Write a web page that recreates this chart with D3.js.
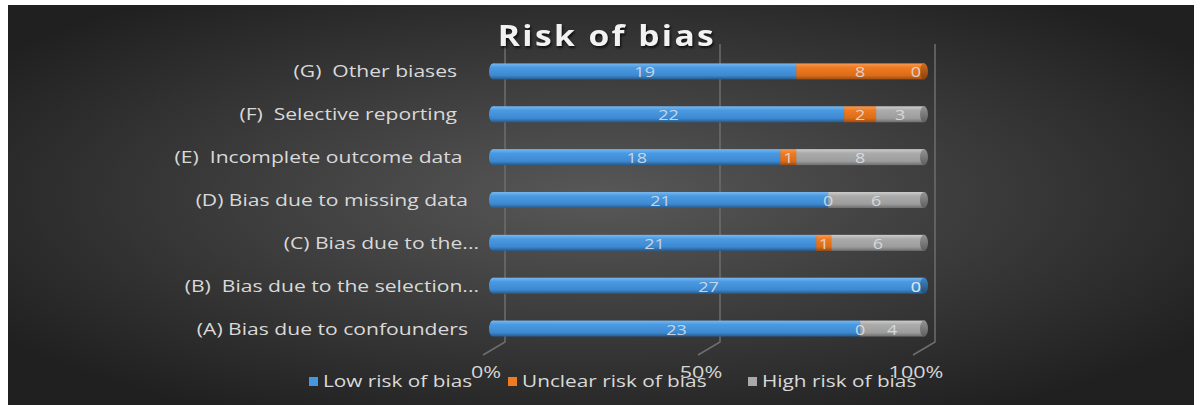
<!DOCTYPE html>
<html lang="en">
<head>
  <meta charset="UTF-8">
  <title>Risk of bias</title>
  <script src="https://d3js.org/d3.v7.min.js"></script>
  <style>
    body {
      margin: 0;
      background: #ffffff;
    }
    svg text {
      font-family: "Open Sans", "Noto Sans", sans-serif;
    }
  </style>
</head>
<body>
  <svg width="1202" height="405"></svg>

  <script>
    // data (top row first); the source labels carry trailing spaces
    const categories = [
      '(G)  Other biases    ',
      '(F)  Selective reporting    ',
      '(E)  Incomplete outcome data   ',
      '(D) Bias due to missing data  ',
      '(C) Bias due to the...',
      '(B)  Bias due to the selection...',
      '(A) Bias due to confounders  '
    ];
    const seriesNames = ['Low risk of bias', 'Unclear risk of bias', 'High risk of bias'];
    const lowRisk     = [19, 22, 18, 21, 21, 27, 23];
    const unclearRisk = [8, 2, 1, 0, 1, 0, 0];
    const highRisk    = [0, 3, 8, 6, 6, 0, 4];
    const tickValues  = [0, 0.5, 1];
    const title = 'Risk of bias';

    const colors = ['#4797e0', '#ef7a22', '#a9a9a9'];
    // the picture is a bit wide, so text gets scaled horizontally
    const stretch = { title: 1.2, label: 1.32, legend: 1.3, tick: 1.35, value: 1.2 };

    const svg = d3.select('svg');
    const defs = svg.append('defs');

    // background
    const bg = defs.append('radialGradient').attr('id', 'bg')
      .attr('cx', '50%').attr('cy', '48%').attr('r', '62%');
    bg.append('stop').attr('offset', '0%').attr('stop-color', '#585858');
    bg.append('stop').attr('offset', '100%').attr('stop-color', '#202020');
    svg.append('rect')
      .attr('x', 8).attr('y', 5)
      .attr('width', 1186).attr('height', 400)
      .attr('fill', 'url(#bg)');

    // bar shading
    const shades = [
      ['#78b8f0', '#4a9ae2', '#3d89d1', '#275a8a'],
      ['#f79b55', '#f07b22', '#dc6c18', '#9c4c12'],
      ['#cdcdcd', '#ababab', '#9d9d9d', '#6e6e6e']
    ];
    shades.forEach((s, i) => {
      const g = defs.append('linearGradient').attr('id', 'bar' + i)
        .attr('x1', 0).attr('y1', 0).attr('x2', 0).attr('y2', 1);
      g.append('stop').attr('offset', '0%').attr('stop-color', s[0]);
      g.append('stop').attr('offset', '25%').attr('stop-color', s[1]);
      g.append('stop').attr('offset', '75%').attr('stop-color', s[2]);
      g.append('stop').attr('offset', '100%').attr('stop-color', s[3]);
      const c = defs.append('linearGradient').attr('id', 'cap' + i)
        .attr('x1', 0).attr('y1', 0).attr('x2', 0).attr('y2', 1);
      c.append('stop').attr('offset', '0%').attr('stop-color', d3.color(s[1]).darker(0.4));
      c.append('stop').attr('offset', '100%').attr('stop-color', d3.color(s[3]).darker(0.4));
    });

    const rows = categories.map((c, i) => {
      const vals = [lowRisk[i], unclearRisk[i], highRisk[i]];
      const total = d3.sum(vals);
      let acc = 0;
      const segs = vals.map((v, k) => {
        const s = { key: k, value: v, x0: acc / total, x1: (acc + v) / total };
        acc += v;
        return s;
      });
      return { cat: c, segs };
    });

    // 3d layout: back wall gridlines, floor runs toward the viewer
    const xBack = d3.scaleLinear().domain([0, 1]).range([505, 935]);
    const xBar = d3.scaleLinear().domain([0, 1]).range([493, 924]);
    const depth = { dx: -22, dy: 13 };
    const y = d3.scaleBand().domain(categories).range([50, 350]).paddingInner(0.62).paddingOuter(0.31);
    const wallTop = 44, wallBottom = 342;

    const grid = svg.append('g');
    tickValues.forEach(t => {
      grid.append('path')
        .attr('d', `M${xBack(t)},${wallTop}V${wallBottom}l${depth.dx},${depth.dy}`)
        .attr('fill', 'none')
        .attr('stroke', '#6e6e6e')
        .attr('stroke-width', 1.5);
    });

    // tick labels sit at the front of the floor
    svg.append('g').selectAll('text')
      .data(tickValues)
      .join('text')
      .attr('transform', d => `translate(${xBack(d) + depth.dx + 3},${378}) scale(${stretch.tick},1)`)
      .attr('text-anchor', 'middle')
      .attr('fill', '#d6d6d6')
      .attr('font-size', 16)
      .text(d => d3.format('.0%')(d));

    // bars
    const barH = 16;
    const bars = svg.append('g');
    rows.forEach(r => {
      const yc = y(r.cat) + y.bandwidth() / 2;
      const g = bars.append('g');
      const first = r.segs.find(s => s.value > 0);
      const last = r.segs.filter(s => s.value > 0).pop();

      g.append('ellipse')
        .attr('cx', xBar(0)).attr('cy', yc)
        .attr('rx', 4).attr('ry', barH / 2)
        .attr('fill', `url(#bar${first.key})`);

      g.selectAll('rect')
        .data(r.segs.filter(s => s.value > 0))
        .join('rect')
        .attr('x', d => xBar(d.x0))
        .attr('y', yc - barH / 2)
        .attr('width', d => xBar(d.x1) - xBar(d.x0) + 0.5)
        .attr('height', barH)
        .attr('fill', d => `url(#bar${d.key})`);

      g.append('ellipse')
        .attr('cx', xBar(1)).attr('cy', yc)
        .attr('rx', 4).attr('ry', barH / 2)
        .attr('fill', `url(#cap${last.key})`);

      g.selectAll('text')
        .data(r.segs)
        .join('text')
        .attr('transform', d => `translate(${xBar((d.x0 + d.x1) / 2) - (d.x1 === 1 && d.value === 0 ? 8 : 0)},${yc + 6}) scale(${stretch.value},1)`)
        .attr('text-anchor', 'middle')
        .attr('fill', '#dfe3e8')
        .attr('fill-opacity', 0.85)
        .attr('font-size', 15)
        .text(d => d.value);
    });

    // category labels
    svg.append('g').selectAll('text')
      .data(categories)
      .join('text')
      .attr('transform', d => `translate(479,${y(d) + y.bandwidth() / 2 + 6}) scale(${stretch.label},1)`)
      .attr('text-anchor', 'end')
      .attr('fill', '#d9d9d9')
      .attr('font-size', 16)
      .style('white-space', 'pre')
      .text(d => d);

    // title
    svg.append('text')
      .attr('transform', `translate(607,46) scale(${stretch.title},1)`)
      .attr('text-anchor', 'middle')
      .attr('fill', '#f2f2f2')
      .attr('font-size', 28)
      .attr('font-weight', 700)
      .attr('letter-spacing', 2)
      .style('filter', 'drop-shadow(1px 2px 1px rgba(0,0,0,0.7))')
      .text(title);

    // legend
    const legendX = [309, 508, 748];
    const legend = svg.append('g').selectAll('g')
      .data(seriesNames)
      .join('g')
      .attr('transform', (d, i) => `translate(${legendX[i]},387)`);
    legend.append('rect')
      .attr('x', 0).attr('y', -10)
      .attr('width', 9).attr('height', 9)
      .attr('fill', (d, i) => colors[i]);
    legend.append('text')
      .attr('transform', `translate(14,0) scale(${stretch.legend},1)`)
      .attr('fill', '#d9d9d9')
      .attr('font-size', 16)
      .text(d => d);
  </script>
</body>
</html>
